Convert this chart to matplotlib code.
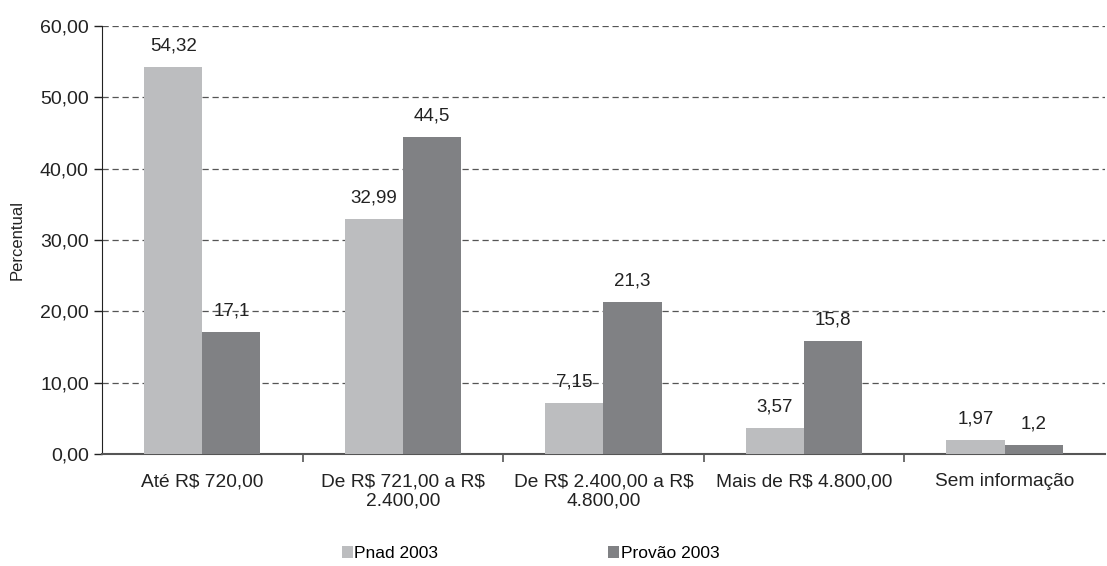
import matplotlib
matplotlib.use("Agg")
import matplotlib.pyplot as plt
import numpy as np

categories = ["Até R\\$ 720,00", "De R\\$ 721,00 a R\\$\n2.400,00", "De R\\$ 2.400,00 a R\\$\n4.800,00",
              "Mais de R\\$ 4.800,00", "Sem informação"]
pnad = [54.32, 32.99, 7.15, 3.57, 1.97]
provao = [17.1, 44.5, 21.3, 15.8, 1.2]
pnad_labels = ["54,32", "32,99", "7,15", "3,57", "1,97"]
provao_labels = ["17,1", "44,5", "21,3", "15,8", "1,2"]
series_names = ["Pnad 2003", "Provão 2003"]
yticks = [0, 10, 20, 30, 40, 50, 60]
ytick_labels = ["0,00", "10,00", "20,00", "30,00", "40,00", "50,00", "60,00"]

plt.rcParams['font.family'] = ['Liberation Sans', 'DejaVu Sans']

legend_size = 12.5

fig = plt.figure(figsize=(11.07, 5.66), dpi=100)
ax = fig.add_axes([0.0921, 0.198, 0.906, 0.756])

x = np.arange(len(categories))
w = 0.29
c_light = "#bcbdbf"
c_dark = "#808184"
b1 = ax.bar(x - w/2, pnad, w, color=c_light, label=series_names[0], zorder=3)
b2 = ax.bar(x + w/2, provao, w, color=c_dark, label=series_names[1], zorder=3)

for bars, labs in ((b1, pnad_labels), (b2, provao_labels)):
    for rect, lab in zip(bars, labs):
        ax.annotate(lab, (rect.get_x() + rect.get_width()/2, rect.get_height()),
                    xytext=(0, 9), textcoords="offset points", ha="center", va="bottom",
                    fontsize=13.5, color="#222222", zorder=4)

ax.set_xlim(-0.5, len(categories) - 0.5)
ax.set_ylim(0, 60)
ax.set_yticks(yticks)
ax.set_yticklabels(ytick_labels, fontsize=14, color="#222222")
ax.yaxis.grid(True, linestyle=(0, (5, 3)), color="#555555", linewidth=0.9, zorder=0)
ax.set_axisbelow(True)

ax.set_xticks(x)
ax.set_xticklabels(categories, fontsize=13.8, color="#222222", linespacing=1.15)
ax.tick_params(axis='x', length=0, pad=14)
ax.set_xticks(np.arange(len(categories) - 1) + 0.5, minor=True)
ax.tick_params(axis='x', which='minor', length=6, width=1.2, color="#555555")
ax.tick_params(axis='y', length=6, width=1.0, color="#222222")

for s in ("top", "right"):
    ax.spines[s].set_visible(False)
ax.spines["left"].set_color("#222222")
ax.spines["bottom"].set_color("#555555")
ax.spines["bottom"].set_linewidth(1.5)

ax.set_ylabel("Percentual", fontsize=12, color="#222222")
ax.yaxis.set_label_coords(-0.077, 0.5)

leg = fig.legend(handles=[b1, b2], labels=series_names, loc="center", bbox_to_anchor=(0.4795, 0.022),
                 ncol=2, frameon=False, prop={'size': legend_size},
                 handlelength=0.6, handleheight=0.7, handletextpad=0.1,
                 columnspacing=170 / (legend_size * 100 / 72))

fig.savefig("out.png", dpi=100)
